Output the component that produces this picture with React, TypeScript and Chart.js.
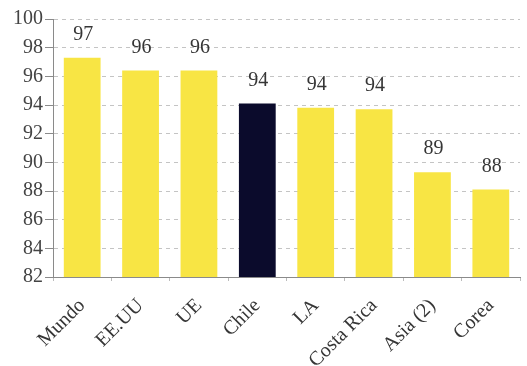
import React, { useEffect, useRef } from "react";
import { Chart, registerables } from "chart.js";

Chart.register(...registerables);

const categories = ["Mundo", "EE.UU", "UE", "Chile", "LA", "Costa Rica", "Asia (2)", "Corea"];
const values = [97.3, 96.4, 96.4, 94.1, 93.8, 93.7, 89.3, 88.1];
const highlight = "Chile";
const yMin = 82;
const yMax = 100;
const yStep = 2;

const YELLOW = "#F8E544";
const NAVY = "#0B0B2C";
const FONT = "'Liberation Serif', 'DejaVu Serif', serif";

// Rounded value printed above each bar
const valueLabels = {
  id: "valueLabels",
  afterDatasetsDraw(chart: any) {
    const { ctx } = chart;
    const meta = chart.getDatasetMeta(0);
    ctx.save();
    ctx.font = `20px ${FONT}`;
    ctx.fillStyle = "#363636";
    ctx.textAlign = "center";
    ctx.textBaseline = "alphabetic";
    meta.data.forEach((bar: any, i: number) => {
      ctx.fillText(String(Math.round(values[i])), bar.x + 1, bar.y - 18);
    });
    ctx.restore();
  },
};

export default function App() {
  const canvasRef = useRef<HTMLCanvasElement | null>(null);

  useEffect(() => {
    if (!canvasRef.current) return;
    const chart = new Chart(canvasRef.current, {
      type: "bar",
      data: {
        labels: categories,
        datasets: [
          {
            data: values,
            backgroundColor: categories.map((c) => (c === highlight ? NAVY : YELLOW)),
            borderWidth: 0,
            barPercentage: 0.63,
            categoryPercentage: 1,
          },
        ],
      },
      options: {
        animation: false,
        responsive: false,
        maintainAspectRatio: false,
        layout: { padding: { left: 8, top: 19, right: 7, bottom: 0 } },
        plugins: {
          legend: { display: false },
          tooltip: { enabled: false },
        },
        scales: {
          x: {
            grid: {
              display: true,
              offset: true,
              drawOnChartArea: false,
              tickLength: 4,
              color: "#bbbbbb",
            },
            border: { display: true, color: "#8a8a8a", width: 1 },
            ticks: {
              font: { family: FONT, size: 20 },
              color: "#363636",
              maxRotation: 45,
              minRotation: 45,
              padding: 13,
            },
            afterFit: (scale: any) => {
              scale.height = 89;
            },
          },
          y: {
            min: yMin,
            max: yMax,
            ticks: {
              stepSize: yStep,
              font: { family: FONT, size: 20 },
              color: "#444444",
              padding: 2,
            },
            grid: {
              color: "#c4c4c4",
              lineWidth: 1,
              tickLength: 8,
              tickColor: "#8a8a8a",
              tickBorderDash: [],
            },
            border: { display: true, color: "#8a8a8a", width: 1, dash: [4, 4] },
            afterFit: (scale: any) => {
              scale.width = 45;
            },
          },
        },
      },
      plugins: [valueLabels],
    });
    return () => chart.destroy();
  }, []);

  return (
    <div style={{ position: "absolute", left: 0, top: 0, width: 527, height: 366, background: "#fff" }}>
      <canvas ref={canvasRef} width={527} height={366} />
    </div>
  );
}
